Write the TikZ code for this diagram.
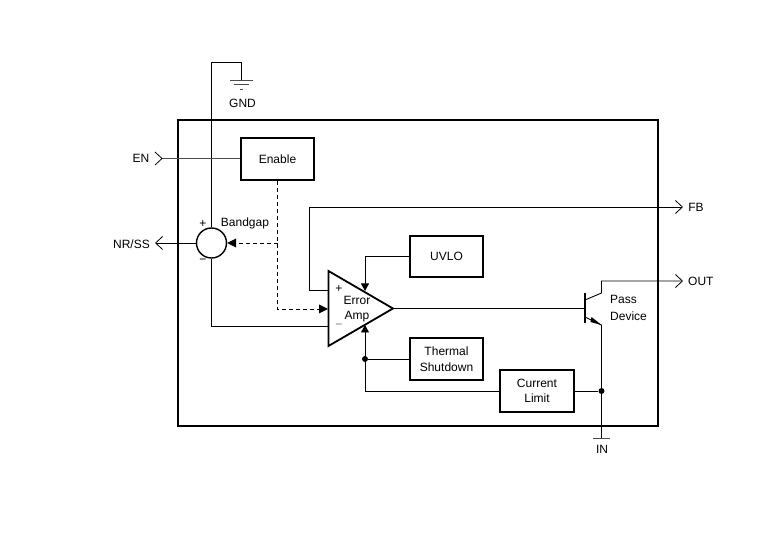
\documentclass[tikz,border=0pt]{standalone}
\usepackage{fontspec}
\setmainfont{Liberation Sans}
\usetikzlibrary{arrows.meta,calc}
\tikzset{
  x=1pt,y=-1pt,
  wire/.style={line width=0.9pt,line join=miter},
  heavy/.style={line width=1.8pt},
  ctrl/.style={wire,dash pattern=on 4pt off 3pt},
  block/.style={draw,line width=1.8pt,fill=white,inner sep=0pt,align=center,font=\fontsize{12}{15.5}\selectfont},
  lbl/.style={inner sep=0pt,align=center,font=\fontsize{12}{15.5}\selectfont},
  junction/.style={circle,fill=black,inner sep=0pt,minimum size=6pt},
  solidtip/.style={-{Triangle[length=7.5pt,width=8pt]}},
  pin/.style={-{Straight Barb[length=7pt,width=13pt,line width=0.8pt]}},
}
\begin{document}
\begin{tikzpicture}
\useasboundingbox (0,0) rectangle (772,534);

% device outline
\node[draw,heavy,minimum width=480pt,minimum height=306pt,inner sep=0pt] (chip) at (418,273) {};

% functional blocks
\node[block,minimum width=73pt,minimum height=42pt] (enable) at (277.5,159) {Enable};
\node[block,minimum width=73pt,minimum height=41pt] (uvlo) at (446.5,256.5) {UVLO};
\node[block,minimum width=73pt,minimum height=42pt] (thermal) at (446.5,359) {Thermal\\Shutdown};
\node[block,minimum width=74pt,minimum height=42pt] (limit) at (537,391) {Current\\Limit};

% reference source
\node[draw,circle,line width=1.4pt,minimum size=30pt,inner sep=0pt] (bg) at (211.5,243) {};
\node[lbl] (bglabel) at (245,223.5) {Bandgap};
\node[lbl] (bgplus) at (203,224) {+};
\node[lbl] (bgminus) at (203,261) {−};

% error amplifier
\coordinate (ampa) at (328.5,271);
\coordinate (ampb) at (328.5,346);
\coordinate (ampout) at (393,308.5);
\draw[heavy,line join=miter,fill=white] (ampa) -- (ampout) -- (ampb) -- cycle;
\node[lbl] (ampplus) at (339,289.5) {+};
\node[lbl] (ampminus) at (339,326.5) {\textcolor{gray}{−}};
\node[lbl] (amplabel) at (357,309) {Error\\Amp};
\coordinate (ampin) at (328.5,290);
\coordinate (ampfb) at (328.5,326.5);
\coordinate (ampdash) at (328,309);
\coordinate (amptop) at (365,291);
\coordinate (ampbot) at (365,325);

% ground and its return
\coordinate (gndtop) at (241.5,62);
\coordinate (gndbar) at (241.5,80);
\coordinate (railtop) at (211.5,62);
\draw[wire] (bg.north) -- (railtop) -- (gndtop) -- (gndbar);
\draw[wire,black!70] (230,80) -- (253,80);
\draw[wire,black!70] (234,84.5) -- (249,84.5);
\draw[wire,black!70] (240,89) -- (243,89);
\node[lbl] (gnd) at (242.5,103.5) {GND};

% enable input
\node[lbl] (en) at (141,158.5) {EN};
\coordinate (enpin) at (162,158.5);
\draw[wire,black!70] (enable.west |- enpin) -- (enpin);
\draw[line width=0.8pt] (155,152) -- (enpin) -- (155,165);

% reference output
\node[lbl] (nrss) at (131.5,244) {NR/SS};
\coordinate (nrpin) at (155,243);
\draw[wire,pin] (bg.west) -- (nrpin);

% enable control lines
\coordinate (entap) at (277.5,243);
\coordinate (encorner) at (277.5,309);
\draw[ctrl] (enable.south) -- (encorner) -- (319,309);
\draw[ctrl] (entap) -- (236,243);
\draw[draw=none,fill=black] (ampdash) -- (319,304.5) -- (319,313.5) -- cycle;
\draw[draw=none,fill=black] (bg.east) -- (236,238.5) -- (236,247.5) -- cycle;

% feedback path
\coordinate (fbcorner) at (309,207);
\coordinate (fbpin) at (683,207);
\node[lbl] (fb) at (696,207.5) {FB};
\draw[wire,pin] (ampin) -- (309,290) -- (fbcorner) -- (fbpin);

% reference to inverting input
\draw[wire] (bg.south) -- (211.5,326.5) -- (ampfb);

% UVLO and shutdown signals
\draw[wire,solidtip] (uvlo.west) -- (365,256.5) -- (amptop);
\draw[wire,solidtip] (limit.west) -- (365,391) -- (ampbot);
\node[junction] (shutdot) at (365,359) {};
\draw[wire] (thermal.west) -- (shutdot);

% pass transistor
\coordinate (base) at (585,308.5);
\coordinate (basetop) at (585,293);
\coordinate (basebot) at (585,323);
\coordinate (coll) at (601.5,293);
\coordinate (emit) at (601.5,325);
\coordinate (outpin) at (683,281);
\draw[wire] (ampout) -- (base);
\draw[line width=1.4pt] (basetop) -- (basebot);
\draw[wire,pin] (585,300) -- (coll) -- (601.5,281) -- (outpin);
\draw[wire] (585,317) -- (emit);
\draw[draw=none,fill=black] (emit) -- (591.5,317) -- (590.5,322) -- cycle;
\node[lbl,anchor=west] (pass) at (610,299.5) {Pass};
\node[lbl,anchor=west] (device) at (610,316) {Device};
\node[lbl,anchor=west] (out) at (688,281.5) {OUT};

% supply input
\coordinate (inbar) at (601.5,438);
\draw[wire] (emit) -- (inbar);
\draw[wire,black!70] (593,438) -- (610,438);
\node[lbl] (inlabel) at (602,449.5) {IN};
\node[junction] (indot) at (601.5,391) {};
\draw[wire] (limit.east) -- (indot);
\end{tikzpicture}
\end{document}
